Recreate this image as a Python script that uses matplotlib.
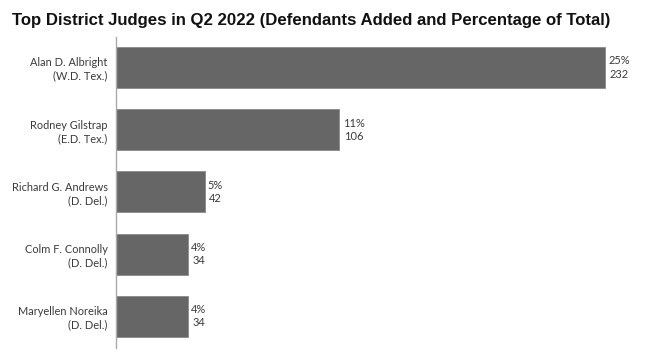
import numpy as np
import matplotlib.pyplot as plt

judges = ['Alan D. Albright\n(W.D. Tex.)', 'Rodney Gilstrap\n(E.D. Tex.)',
          'Richard G. Andrews\n(D. Del.)', 'Colm F. Connolly\n(D. Del.)',
          'Maryellen Noreika\n(D. Del.)']
defendants = [232, 106, 42, 34, 34]
pct = ['25%', '11%', '5%', '4%', '4%']

fig = plt.figure(figsize=(6.54, 3.55), dpi=100)
ax = fig.add_axes([0.1774, 0.0197, 0.8012, 0.8761])

y = np.arange(len(judges))
ax.barh(y, defendants, height=0.66, color='#666666', edgecolor='#8a8a8a', linewidth=0.6)
ax.set_ylim(4.51, -0.49)
ax.set_xlim(0, 248.6)

for yi, v, p in zip(y, defendants, pct):
    ax.text(v + 1.5, yi, p + '\n' + str(v), ha='left', va='center', multialignment='center',
            fontsize=7.9, family='Lato', color='#3a3a3a', linespacing=1.25)

ax.set_yticks(y)
ax.set_yticklabels(judges, fontsize=7.9, family='Lato', color='#3a3a3a',
                   multialignment='right', linespacing=1.25)
ax.tick_params(axis='y', length=0, pad=6)
ax.set_xticks([])
for s in ['top', 'right', 'bottom']:
    ax.spines[s].set_visible(False)
ax.spines['left'].set_color('#aaaaaa')
ax.spines['left'].set_linewidth(1)

fig.text(0.018, 0.943, 'Top District Judges in Q2 2022 (Defendants Added and Percentage of Total)',
         fontsize=12.1, fontweight='bold', family='Liberation Sans', ha='left', va='center',
         color='#111111')

fig.savefig('out.png', dpi=100)
